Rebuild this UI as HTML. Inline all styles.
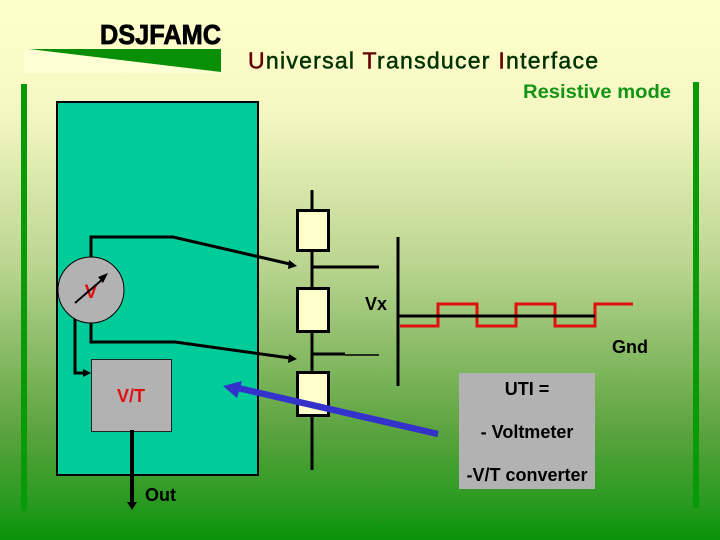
<!DOCTYPE html>
<html>
<head>
<meta charset="utf-8">
<style>
html,body{margin:0;padding:0;width:720px;height:540px;overflow:hidden}
svg{display:block}
text{font-family:"Liberation Sans",sans-serif}
.b{font-weight:bold;font-size:18px;fill:#000}
</style>
</head>
<body>
<svg width="720" height="540" viewBox="0 0 720 540" xmlns="http://www.w3.org/2000/svg">
<defs>
<linearGradient id="bg" x1="0" y1="0" x2="0" y2="1">
<stop offset="0" stop-color="#ffffcc"/>
<stop offset="0.2" stop-color="#f6f8c4"/>
<stop offset="0.5" stop-color="#b8d48e"/>
<stop offset="0.8" stop-color="#5ba33f"/>
<stop offset="0.93" stop-color="#2a9a20"/>
<stop offset="1" stop-color="#089408"/>
</linearGradient>
</defs>
<rect width="720" height="540" fill="url(#bg)"/>

<!-- logo -->
<rect x="24" y="49" width="197" height="24" fill="#fefed4"/>
<polygon points="29,49 221,49 221,72" fill="#088f08"/>
<text x="100" y="44" font-size="28" font-weight="bold" textLength="121" lengthAdjust="spacingAndGlyphs" fill="#000" stroke="#000" stroke-width="0.8">DSJFAMC</text>

<!-- side bars -->
<rect x="21" y="84" width="6" height="427" fill="#089a08"/>
<rect x="693" y="82" width="6" height="426" fill="#089a08"/>

<!-- titles -->
<text x="248" y="68.5" font-size="23" stroke="#003300" stroke-width="0.5" textLength="350" fill="#003300"><tspan fill="#660000" stroke="#660000">U</tspan>niversal <tspan fill="#660000" stroke="#660000">T</tspan>ransducer <tspan fill="#660000" stroke="#660000">I</tspan>nterface</text>
<text x="523" y="98" font-size="19.5" font-weight="bold" textLength="148" lengthAdjust="spacingAndGlyphs" fill="#149414">Resistive mode</text>

<!-- chip -->
<rect x="57" y="102" width="201" height="373" fill="#00cc99" stroke="#000" stroke-width="2"/>

<!-- meter wires -->
<g fill="none" stroke="#000" stroke-width="3">
<polyline points="91,259 91,237 173,237 290,264"/>
<polyline points="91,322 91,342 175,342 290,358"/>
<polyline points="75,317 75,373 86,373"/>
</g>
<polygon points="297,266 288,269 289,260" fill="#000"/>
<polygon points="297,359 288,363 289,354" fill="#000"/>
<polygon points="91,373 83,369 83,377" fill="#000"/>

<circle cx="91" cy="290" r="33" fill="#b2b2b2" stroke="#000" stroke-width="1"/>
<text x="91" y="298" text-anchor="middle" font-size="19" font-weight="bold" fill="#e01010">V</text>
<line x1="75" y1="303" x2="104" y2="278" stroke="#000" stroke-width="2"/>
<polygon points="108,273 103,283 98,277" fill="#000"/>

<!-- V/T -->
<rect x="91.5" y="359.5" width="80" height="72" fill="#b2b2b2" stroke="#222" stroke-width="1"/>
<text x="131" y="402" text-anchor="middle" font-size="18" font-weight="bold" fill="#e01010">V/T</text>
<line x1="132" y1="430" x2="132" y2="504" stroke="#000" stroke-width="4"/>
<polygon points="132,510 127,502 137,502" fill="#000"/>
<text class="b" x="145" y="501">Out</text>

<!-- resistor chain -->
<line x1="312" y1="190" x2="312" y2="470" stroke="#000" stroke-width="3"/>
<line x1="312" y1="267" x2="379" y2="267" stroke="#000" stroke-width="3"/>
<line x1="312" y1="354" x2="345" y2="354" stroke="#000" stroke-width="3"/>
<line x1="345" y1="355" x2="379" y2="355" stroke="#000" stroke-width="1.5"/>
<g fill="#ffffcc" stroke="#000" stroke-width="3">
<rect x="297.5" y="210.5" width="31" height="40"/>
<rect x="297.5" y="288.5" width="31" height="43"/>
<rect x="297.5" y="372.5" width="31" height="43"/>
</g>

<!-- Vx axis and waveform -->
<line x1="398" y1="237" x2="398" y2="386" stroke="#000" stroke-width="3"/>
<polyline points="400,326 438,326 438,304 477,304 477,326 516,326 516,304 555,304 555,326 595,326 595,304 633,304" fill="none" stroke="#e01010" stroke-width="3"/>
<line x1="398" y1="316" x2="595" y2="316" stroke="#000" stroke-width="3"/>
<text class="b" x="365" y="310">Vx</text>
<text class="b" x="612" y="353">Gnd</text>

<!-- UTI box -->
<rect x="459" y="373" width="136" height="116" fill="#b2b2b2"/>
<text class="b" x="527" y="395" text-anchor="middle">UTI =</text>
<text class="b" x="527" y="438" text-anchor="middle">- Voltmeter</text>
<text class="b" x="527" y="481" text-anchor="middle">-V/T converter</text>

<!-- blue arrow -->
<line x1="438" y1="434" x2="238" y2="388" stroke="#3333cc" stroke-width="6.5"/>
<polygon points="223,386 242,381 237,398" fill="#3333cc"/>
</svg>
</body>
</html>
